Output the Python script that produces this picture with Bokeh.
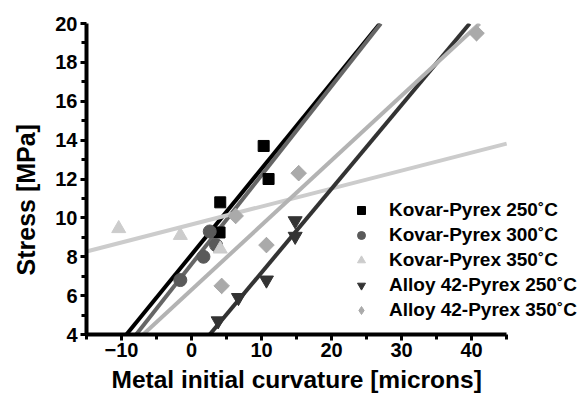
import math
from bokeh.plotting import figure
from bokeh.models import FixedTicker, Legend, LegendItem, Range1d, Title
from bokeh.embed import file_html
from bokeh.resources import INLINE

# ---- data ----
k250_x = [4.1, 4.0, 10.3, 11.0]
k250_y = [10.8, 9.25, 13.7, 12.0]
k300_x = [-1.6, 1.7, 2.6, 3.5]
k300_y = [6.8, 8.0, 9.3, 8.6]
k350_x = [-10.4, -1.6, 4.1]
k350_y = [9.45, 9.1, 8.4]
a250_x = [3.8, 6.7, 10.7, 14.8, 14.8]
a250_y = [4.7, 5.9, 6.8, 9.85, 9.05]
a350_x = [4.3, 6.3, 10.7, 15.3, 40.7]
a350_y = [6.5, 10.1, 8.6, 12.3, 19.5]

series_names = ["Kovar-Pyrex 250˚C", "Kovar-Pyrex 300˚C", "Kovar-Pyrex 350˚C",
                "Alloy 42-Pyrex 250˚C", "Alloy 42-Pyrex 350˚C"]
# linear fit lines (slope, intercept)
fit_slopes = [0.442, 0.458, 0.0925, 0.431, 0.333]
fit_intercepts = [8.11, 7.62, 9.66, 2.88, 6.30]

x_bounds = (-15, 45)
y_bounds = (4, 20)
x_ticks = [-10, 0, 10, 20, 30, 40]
x_minor = [-15, -5, 5, 15, 25, 35, 45]
y_ticks = [4, 6, 8, 10, 12, 14, 16, 18, 20]
y_minor = [5, 7, 9, 11, 13, 15, 17, 19]

marker_colors = ["#000000", "#5a5a5a", "#cccccc", "#333333", "#aaaaaa"]
line_colors = ["#000000", "#666666", "#cccccc", "#333333", "#b3b3b3"]
markers = ["square", "circle", "triangle", "inverted_triangle", "square"]
legend_markers = ["square", "circle", "triangle", "inverted_triangle", "diamond"]
angles = [0, 0, 0, 0, math.pi / 4]
sizes = [11, 13, 14, 14, 11]
legend_sizes = [11, 13, 14, 14, 15]

FONT = "Liberation Sans"

W, H = 580, 403
FL, FT, FB = 85, 23, 334          # frame left/top/bottom in px
px_per_unit = 421.0 / (x_bounds[1] - x_bounds[0])
x_end = x_bounds[0] + (W - FL) / px_per_unit

p = figure(width=W, height=H, output_backend="svg", toolbar_location=None,
           x_range=Range1d(x_bounds[0], x_end), y_range=Range1d(*y_bounds),
           min_border_left=FL, min_border_right=0, min_border_top=FT,
           min_border_bottom=H - FB)
p.outline_line_color = None
p.xgrid.visible = False
p.ygrid.visible = False

xs = [k250_x, k300_x, k350_x, a250_x, a350_x]
ys = [k250_y, k300_y, k350_y, a250_y, a350_y]

# fit lines, clipped to the axis box
for m, b, c in zip(fit_slopes, fit_intercepts, line_colors):
    x0 = max(x_bounds[0], (y_bounds[0] - b) / m)
    x1 = min(x_bounds[1], (y_bounds[1] - b) / m)
    p.line([x0, x1], [m * x0 + b, m * x1 + b], line_color=c, line_width=4)

items = []
for x, y, mk, lmk, a, c, s, ls, name in zip(xs, ys, markers, legend_markers, angles,
                                           marker_colors, sizes, legend_sizes, series_names):
    lr = None
    if lmk != mk:
        # legend swatch (legend markers are never rotated); hidden under the points
        lr = p.scatter(x, y, marker=lmk, size=ls, fill_color=c, line_color=c)
    r = p.scatter(x, y, marker=mk, size=s, angle=a, fill_color=c, line_color=c)
    items.append(LegendItem(label=name, renderers=[lr if lr is not None else r]))

legend = Legend(items=items, location=(265, 13), padding=0, margin=0,
                spacing=3, label_height=20, glyph_height=20, glyph_width=20,
                label_standoff=18, border_line_color=None,
                background_fill_alpha=0,
                label_text_font=FONT, label_text_font_style="bold",
                label_text_font_size="19px", label_text_color="#000000")
p.add_layout(legend, "center")

for ax in (p.xaxis[0], p.yaxis[0]):
    ax.axis_line_width = 4
    ax.axis_line_color = "#000000"
    ax.major_tick_line_width = 3
    ax.minor_tick_line_width = 3
    ax.major_tick_in = 0
    ax.major_tick_out = 6
    ax.minor_tick_in = 0
    ax.minor_tick_out = 5
    ax.major_label_text_font = FONT
    ax.major_label_text_font_style = "bold"
    ax.major_label_text_font_size = "20px"
    ax.major_label_text_color = "#000000"

p.xaxis[0].bounds = x_bounds
p.yaxis[0].bounds = y_bounds
p.xaxis[0].ticker = FixedTicker(ticks=x_ticks, minor_ticks=x_minor)
p.yaxis[0].ticker = FixedTicker(ticks=y_ticks, minor_ticks=y_minor)
p.xaxis[0].major_label_standoff = 2
p.yaxis[0].major_label_standoff = 3

xt = Title(text="Metal initial curvature [microns]", align="left", offset=25,
           vertical_align="bottom", standoff=9, text_font=FONT,
           text_font_style="bold", text_font_size="24.5px", text_color="#000000")
p.add_layout(xt, "below")
yt = Title(text="Stress [MPa]", align="left", offset=59,
           vertical_align="top", standoff=22, text_font=FONT,
           text_font_style="bold", text_font_size="25px", text_color="#000000")
p.add_layout(yt, "left")

open("out.html", "w").write(file_html(p, INLINE))
